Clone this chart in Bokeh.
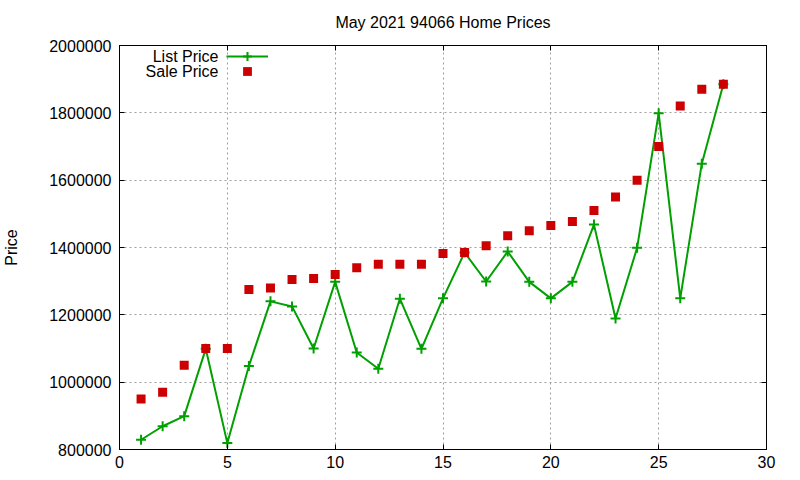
from bokeh.plotting import figure
from bokeh.models import (Range1d, FixedTicker, BasicTickFormatter, LinearAxis,
                          Legend, LegendItem, Label)
from bokeh.core.properties import value
from bokeh.embed import file_html
from bokeh.resources import INLINE

# May 2021 sales in 94066, ordered by sale price
home = list(range(1, 29))
list_price = [829000, 869000, 899000, 1099000, 819000, 1048000, 1240000, 1225000,
              1100000, 1298000, 1088000, 1040000, 1248000, 1099000, 1249000, 1385000,
              1299000, 1388000, 1298000, 1249000, 1298000, 1468000, 1189000, 1399000,
              1799000, 1249000, 1649000, 1885000]
sale_price = [950000, 970000, 1050000, 1100000, 1100000, 1275000, 1280000, 1305000,
              1308000, 1320000, 1340000, 1350000, 1350000, 1350000, 1382000, 1385000,
              1405000, 1435000, 1450000, 1465000, 1477000, 1510000, 1550000, 1600000,
              1700000, 1820000, 1870000, 1885000]
x_ticks = [0, 5, 10, 15, 20, 25, 30]
y_ticks = [800000, 1000000, 1200000, 1400000, 1600000, 1800000, 2000000]
title = "May 2021 94066 Home Prices"

FONT = "Liberation Sans"
GREEN = "#00a000"
RED = "#cc0000"

p = figure(width=800, height=480, output_backend="svg", toolbar_location=None,
           x_range=Range1d(0, 30), y_range=Range1d(800000, 2000000),
           min_border_left=118, min_border_right=34, min_border_top=45,
           min_border_bottom=31)
p.background_fill_color = "white"
p.border_fill_color = "white"
p.outline_line_color = "black"
p.outline_line_width = 1

for ax in (p.xaxis[0], p.yaxis[0]):
    ax.major_label_text_font = FONT
    ax.major_label_text_font_size = "16px"
    ax.major_label_text_color = "black"
    ax.major_tick_in = 5
    ax.major_tick_out = 0
    ax.minor_tick_in = 0
    ax.minor_tick_out = 0
    ax.axis_line_color = "black"
    ax.major_tick_line_color = "black"

p.xaxis[0].ticker = FixedTicker(ticks=x_ticks)
p.yaxis[0].ticker = FixedTicker(ticks=y_ticks)
p.yaxis[0].formatter = BasicTickFormatter(use_scientific=False)
p.xaxis[0].major_label_standoff = 6
p.yaxis[0].major_label_standoff = 8
p.yaxis[0].axis_label = "Price"
p.yaxis[0].axis_label_text_font = FONT
p.yaxis[0].axis_label_text_font_size = "16px"
p.yaxis[0].axis_label_text_font_style = "normal"
p.yaxis[0].axis_label_text_color = "black"
p.yaxis[0].axis_label_standoff = 26

# mirrored tick marks on the top and right edges (no tick labels);
# the top axis carries the chart title
mirror = dict(major_label_text_font_size="0px", major_label_text_color=None,
              major_label_standoff=0,
              major_tick_in=5, major_tick_out=0, minor_tick_in=0, minor_tick_out=0,
              axis_line_color="black", major_tick_line_color="black")
top = LinearAxis(ticker=FixedTicker(ticks=x_ticks), axis_label=title,
                 axis_label_text_font=FONT, axis_label_text_font_size="16px",
                 axis_label_text_font_style="normal", axis_label_text_color="black",
                 axis_label_standoff=15, **mirror)
p.add_layout(top, "above")
p.add_layout(LinearAxis(ticker=FixedTicker(ticks=y_ticks), **mirror), "right")

for g in (p.xgrid[0], p.ygrid[0]):
    g.grid_line_color = "#a0a0a0"
    g.grid_line_dash = "2 3"
    g.grid_line_width = 1
p.xgrid[0].ticker = FixedTicker(ticks=x_ticks)
p.ygrid[0].ticker = FixedTicker(ticks=y_ticks)

line_r = p.line(home, list_price, line_color=GREEN, line_width=2)
plus_r = p.scatter(home, list_price, marker="cross", size=10, line_color=GREEN, line_width=2)
sq_r = p.scatter(home, sale_price, marker="square", size=9, fill_color=RED, line_color=None)

# glyph-only key entries; the key texts sit to their left
key_style = dict(padding=0, margin=0, spacing=0, glyph_width=42, glyph_height=22,
                 label_height=22, label_width=0, label_standoff=0,
                 border_line_color=None, background_fill_alpha=0)
for renderers, loc in (([line_r, plus_r], (107, 382)), ([sq_r], (107, 367))):
    p.add_layout(Legend(items=[LegendItem(label=value(" "), renderers=renderers)],
                        location=loc, **key_style), "center")

for txt, yy in (("List Price", 393), ("Sale Price", 378)):
    p.add_layout(Label(x=99, y=yy, x_units="screen", y_units="screen", text=txt,
                       text_align="right", text_baseline="middle", text_font=FONT,
                       text_font_size="16px", text_color="black"))

open("out.html", "w").write(file_html(p, INLINE))
